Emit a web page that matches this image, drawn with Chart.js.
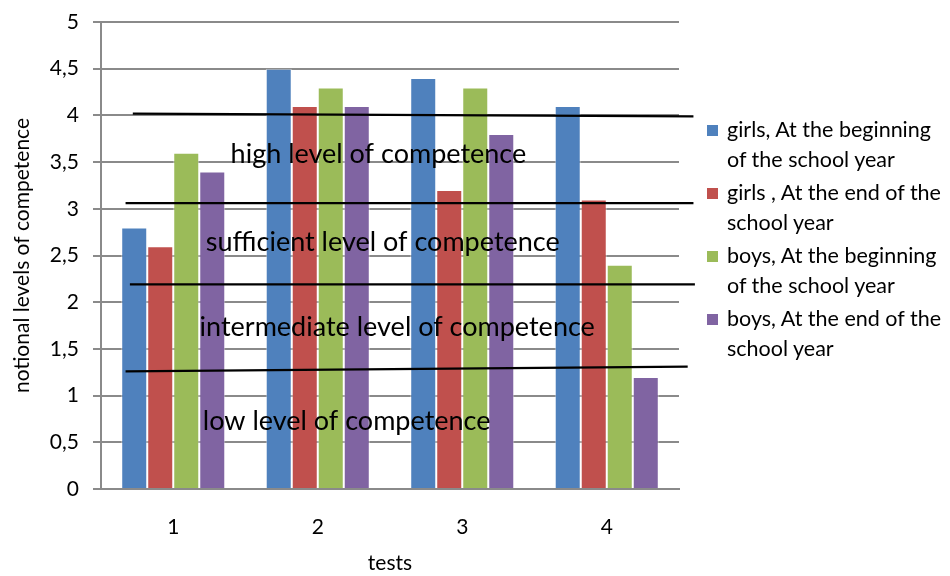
<!DOCTYPE html>
<html>
<head>
<meta charset="utf-8">
<script src="https://cdn.jsdelivr.net/npm/chart.js@4.4.1/dist/chart.umd.min.js"></script>
<style>
    html, body { margin: 0; padding: 0; background: #fff; }
    #wrap { position: relative; width: 950px; height: 576px; }
    #legend { position: absolute; left: 707px; top: 115px; font-family: Lato, sans-serif; font-size: 21.5px; color: #000; white-space: nowrap; }
    .item { position: relative; padding-left: 20px; line-height: 29.5px; margin-bottom: 4px; }
    .box { position: absolute; left: 0; top: 10px; width: 11px; height: 11px; }
</style>
</head>
<body>
<div id="wrap">
    <canvas id="chart" width="950" height="576"></canvas>
    <div id="legend"></div>
</div>
<script>
// Données du graphique
const tests = ['1', '2', '3', '4'];
const girlsBegin = [2.8, 4.5, 4.4, 4.1];
const girlsEnd = [2.6, 4.1, 3.2, 3.1];
const boysBegin = [3.6, 4.3, 4.3, 2.4];
const boysEnd = [3.4, 4.1, 3.8, 1.2];
const seriesNames = [
    ['girls, At the beginning', 'of the school year'],
    ['girls , At the end of the', 'school year'],
    ['boys, At the beginning', 'of the school year'],
    ['boys, At the end of the', 'school year']
];
const seriesColors = ['#4F81BD', '#C0504D', '#9BBB59', '#8064A2'];

// Lignes de niveau (en unités de données : index de catégorie, valeur)
const levelLines = [
    [-0.28, 4.02, 3.6, 3.99],
    [-0.33, 3.06, 3.6, 3.06],
    [-0.30, 2.19, 3.61, 2.19],
    [-0.33, 1.26, 3.56, 1.31]
];
const levelTexts = ['high level of competence', 'sufficient level of competence',
    'intermediate level of competence', 'low level of competence'];
const levelTextPos = [[1.42, 3.58], [1.45, 2.64], [1.55, 1.73], [1.2, 0.72]];

// Plugin pour les lignes et textes de niveau
const levelsPlugin = {
    id: 'levels',
    afterDatasetsDraw(chart) {
        const ctx = chart.ctx;
        const xs = chart.scales.x;
        const ys = chart.scales.y;
        const step = xs.getPixelForValue(1) - xs.getPixelForValue(0);
        const px = v => xs.getPixelForValue(0) + v * step;
        ctx.save();
        ctx.strokeStyle = '#000';
        ctx.lineWidth = 2.2;
        levelLines.forEach(l => {
            ctx.beginPath();
            ctx.moveTo(px(l[0]), ys.getPixelForValue(l[1]));
            ctx.lineTo(px(l[2]), ys.getPixelForValue(l[3]));
            ctx.stroke();
        });
        ctx.fillStyle = '#000';
        ctx.font = '27px Lato, sans-serif';
        ctx.textAlign = 'center';
        ctx.textBaseline = 'middle';
        levelTexts.forEach((t, i) => {
            ctx.fillText(t, px(levelTextPos[i][0]), ys.getPixelForValue(levelTextPos[i][1]));
        });
        ctx.restore();
    }
};

function makeDataset(label, data, color) {
    return {
        label: label,
        data: data,
        backgroundColor: color,
        borderColor: 'rgba(255,255,255,0.5)',
        borderWidth: 1,
        barPercentage: 1,
        categoryPercentage: 0.72
    };
}

const gridColor = '#8a8a8a';

new Chart(document.getElementById('chart'), {
    type: 'bar',
    data: {
        labels: tests,
        datasets: [
            makeDataset(seriesNames[0].join(' '), girlsBegin, seriesColors[0]),
            makeDataset(seriesNames[1].join(' '), girlsEnd, seriesColors[1]),
            makeDataset(seriesNames[2].join(' '), boysBegin, seriesColors[2]),
            makeDataset(seriesNames[3].join(' '), boysEnd, seriesColors[3])
        ]
    },
    options: {
        responsive: false,
        animation: false,
        layout: { padding: { left: 0, top: 22, right: 271, bottom: 0 } },
        plugins: {
            legend: { display: false },
            tooltip: { enabled: false }
        },
        scales: {
            x: {
                grid: { display: false },
                border: { color: gridColor, width: 2 },
                ticks: { color: '#000', font: { family: 'Lato', size: 21 }, padding: 18 },
                title: { display: true, text: 'tests', color: '#000', font: { family: 'Lato', size: 21 }, padding: { top: 0, bottom: 0 } },
                afterFit(scale) { scale.height = 87; scale.paddingLeft = 0; scale.paddingRight = 0; }
            },
            y: {
                min: 0,
                max: 5,
                ticks: {
                    stepSize: 0.5,
                    color: '#000',
                    font: { family: 'Lato', size: 21 },
                    padding: 14,
                    callback: v => String(v).replace('.', ',')
                },
                grid: { color: gridColor, lineWidth: 2, tickLength: 8, tickColor: gridColor },
                border: { color: gridColor, width: 2 },
                title: { display: true, text: 'notional levels of competence', color: '#000', font: { family: 'Lato', size: 21 }, padding: { top: 10 } },
                afterFit(scale) { scale.width = 101; scale.paddingTop = 0; scale.paddingBottom = 0; }
            }
        }
    },
    plugins: [levelsPlugin]
});

// Légende HTML sur deux lignes
const legend = document.getElementById('legend');
legend.innerHTML = seriesNames.map((lines, i) => `
    <div class="item">
        <span class="box" style="background:${seriesColors[i]}"></span>
        ${lines.join('<br>')}
    </div>
`).join('');
</script>
</body>
</html>
